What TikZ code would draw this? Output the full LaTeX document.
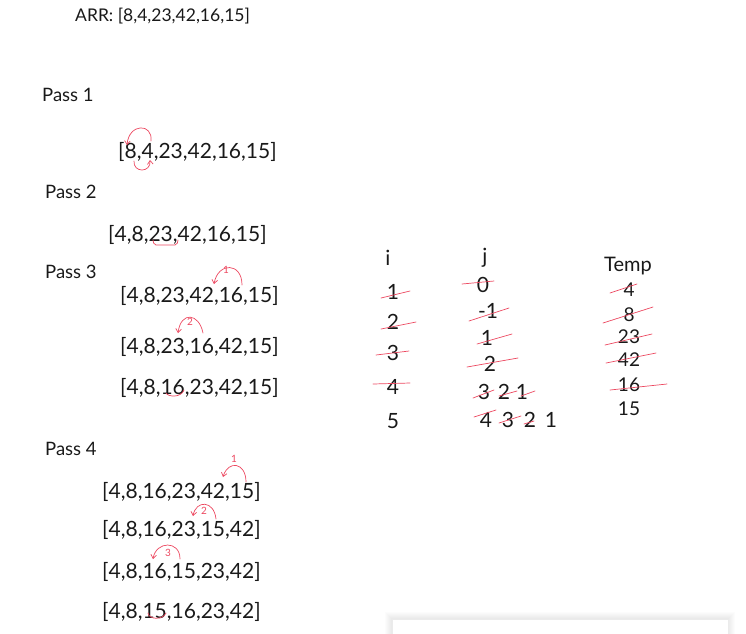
\documentclass[tikz,border=0pt]{standalone}
\usepackage{fontspec}
\setmainfont{Lato}
\usetikzlibrary{arrows.meta,calc}
\definecolor{pen}{RGB}{25,25,25}
\definecolor{marker}{RGB}{236,72,96}
\tikzset{
  >={Straight Barb[length=1.3mm,width=2mm]},
  row/.style={font=\fontsize{21}{25}\selectfont,text=pen,inner sep=0pt,anchor=base west},
  head/.style={font=\fontsize{18.5}{22}\selectfont,text=pen,inner sep=0pt,anchor=base west},
  cell/.style={font=\fontsize{21}{25}\selectfont,text=pen,inner sep=0pt},
  note/.style={font=\fontsize{10}{12}\selectfont,text=marker,inner sep=0pt},
  strike/.style={draw=marker,line width=0.7pt,line cap=round},
  swap/.style={->,draw=marker,line width=0.7pt,line cap=round},
  brace/.style={draw=marker,line width=0.7pt,line cap=round,rounded corners=2pt}
}
\begin{document}
\begin{tikzpicture}[x=1pt,y=-1pt]
  \useasboundingbox (0,0) rectangle (746,633);
  \node[head,font=\fontsize{17.5}{21}\selectfont] (arr) at (75,21) {ARR: [8,4,23,42,16,15]};

  % pass 1
  \node[head] (pass1) at (42,101) {Pass 1};
  \node[row] (p1r1) at (118,158) {[8,4,23,42,16,15]};
  \draw[swap] (151,141) .. controls (153,123) and (129,123) .. (127,145);
  \draw[swap] (134,161) .. controls (133,173) and (151,173) .. (150,160);

  % pass 2
  \node[head] (pass2) at (45,198) {Pass 2};
  \node[row] (p2r1) at (108,241) {[4,8,23,42,16,15]};
  \draw[brace] (153,240) -- (154,245) -- (177,245) -- (178,240);

  % pass 3
  \node[head] (pass3) at (45,278) {Pass 3};
  \node[row] (p3r1) at (120,302) {[4,8,23,42,16,15]};
  \draw[swap] (242,285) .. controls (242,262) and (218,262) .. (214,284);
  \node[note] (p3n1) at (226,270) {1};
  \node[row] (p3r2) at (120,353) {[4,8,23,16,42,15]};
  \draw[swap] (203,333) .. controls (199,313) and (181,311) .. (178,333);
  \node[note] (p3n2) at (190,322) {2};
  \node[row] (p3r3) at (120,394) {[4,8,16,23,42,15]};
  \draw[brace] (166,393) .. controls (168,397) and (181,398) .. (184,390);

  % pass 4
  \node[head] (pass4) at (45,455) {Pass 4};
  \node[row] (p4r1) at (102,498) {[4,8,16,23,42,15]};
  \draw[swap] (246,482) .. controls (246,462) and (228,460) .. (223,477);
  \node[note] (p4n1) at (234,459) {1};
  \node[row] (p4r2) at (102,536) {[4,8,16,23,15,42]};
  \draw[swap] (216,519) .. controls (214,500) and (196,500) .. (193,516);
  \node[note] (p4n2) at (204,511) {2};
  \node[row] (p4r3) at (102,578) {[4,8,16,15,23,42]};
  \draw[swap] (180,559) .. controls (180,540) and (156,541) .. (153,559);
  \node[note] (p4n3) at (168,553) {3};
  \node[row] (p4r4) at (102,618) {[4,8,15,16,23,42]};
  \draw[brace] (148,613) .. controls (149,620) and (163,620) .. (166,613);

  % i column
  \node[cell] (ihead) at (388,258) {i};
  \foreach \v/\y in {1/292,2/322,3/353,4/387,5/421}
    \node[cell] (i\v) at (393,\y) {\v};
  \draw[strike] (381,298) -- (410,291);
  \draw[strike] (381,329) -- (416,322);
  \draw[strike] (376,355) -- (409,351);
  \draw[strike] (373,384) -- (410,383);

  % j column
  \node[cell] (jhead) at (485,258) {j};
  \foreach \n/\t/\x/\y in {a/0/483/285,b/-1/488/311,c/1/487/338,d/2/490/364}
    \node[cell] (j\n) at (\x,\y) {\t};
  \foreach \n/\x in {1/484,2/504,3/522}
    \node[cell] (je\n) at (\x,392) {\the\numexpr4-\n\relax};
  \foreach \n/\x in {1/486,2/508,3/530,4/551}
    \node[cell] (jf\n) at (\x,420) {\the\numexpr5-\n\relax};
  \draw[strike] (462,284) -- (494,281);
  \draw[strike] (469,321) -- (509,308);
  \draw[strike] (477,344) -- (512,334);
  \draw[strike] (467,367) -- (518,358);
  \draw[strike] (473,398) -- (494,390);
  \draw[strike] (499,396) -- (517,391);
  \draw[strike] (521,396) -- (535,391);
  \draw[strike] (474,417) -- (496,410);
  \draw[strike] (499,423) -- (521,416);
  \draw[strike] (524,424) -- (534,421);

  % temp column
  \node[cell,font=\fontsize{20}{24}\selectfont] (thead) at (628,266) {Temp};
  \foreach \n/\t/\y in {a/4/290,b/8/315,c/23/337,d/42/360,e/16/385,f/15/409}
    \node[cell,font=\fontsize{19}{22}\selectfont] (t\n) at (629,\y) {\t};
  \draw[strike] (610,293) -- (637,284);
  \draw[strike] (603,323) -- (653,307);
  \draw[strike] (605,345) -- (652,334);
  \draw[strike] (606,363) -- (656,353);
  \draw[strike] (610,390) -- (667,384);

  % card at the bottom edge
  \foreach \g in {1,...,7}
    \fill[black,opacity=0.012] ({392-\g},{619-\g}) rectangle ({728+\g},640);
  \fill[white] (392,619) rectangle (728,640);
  \draw[black!8] (392,640) -- (392,619) -- (728,619) -- (728,640);
\end{tikzpicture}
\end{document}
